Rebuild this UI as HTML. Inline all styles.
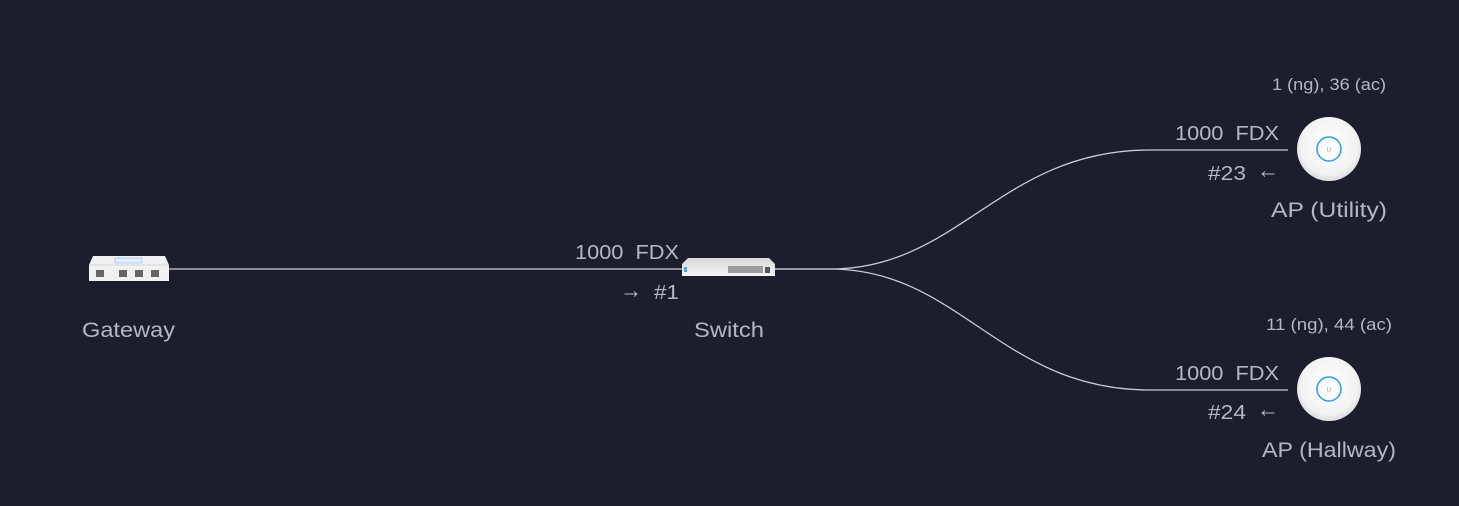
<!DOCTYPE html>
<html><head><style>
html,body{margin:0;padding:0;background:#1c1e2e;width:1459px;height:506px;overflow:hidden}
svg{display:block}
text{font-family:"Liberation Sans",sans-serif;fill:#b4b7c2}
</style></head><body>
<svg width="1459" height="506" viewBox="0 0 1459 506">
<defs>
<radialGradient id="ap" cx="50%" cy="45%" r="55%"><stop offset="0" stop-color="#ffffff"/><stop offset="0.8" stop-color="#f2f2f2"/><stop offset="1" stop-color="#dcdcdc"/></radialGradient>
<linearGradient id="sw" x1="0" y1="0" x2="0" y2="1"><stop offset="0" stop-color="#d8d8d8"/><stop offset="1" stop-color="#f4f4f4"/></linearGradient>
</defs>
<g stroke="#c8cad2" stroke-width="1.3" fill="none">
<path d="M168 269 L682 269"/>
<path d="M775 269 L830 269 C960 269 1000 150 1150 150 L1288 150"/>
<path d="M775 269 L830 269 C960 269 1000 390 1150 390 L1288 390"/>
</g>
<g>
<path d="M93 256 L165 256 L169 265 L169 281 L89 281 L89 265 Z" fill="#f1f1f3"/>
<path d="M89 265 L169 265" stroke="#d5d5d8"/>
<rect x="115" y="258" width="27" height="5" fill="#e3eefb" stroke="#8fc0ee" stroke-width="0.7"/>
<g fill="#666"><rect x="96" y="270" width="8" height="7"/><rect x="119" y="270" width="8" height="7"/><rect x="135" y="270" width="8" height="7"/><rect x="151" y="270" width="8" height="7"/></g>
</g>
<g>
<path d="M688 258 L769 258 L775 264 L775 276 L682 276 L682 264 Z" fill="url(#sw)"/>
<rect x="684" y="267" width="3" height="5" fill="#49a7e8"/>
<rect x="728" y="266" width="35" height="7" fill="#9a9a9a"/>
<rect x="765" y="267" width="5" height="6" fill="#555"/>
</g>
<g>
<circle cx="1329" cy="149" r="32" fill="url(#ap)"/>
<circle cx="1329" cy="149" r="12" fill="none" stroke="#2d9ee0" stroke-width="1.5"/>
<text x="1329" y="152" font-size="7" text-anchor="middle" style="fill:#aaa">U</text>
<circle cx="1329" cy="389" r="32" fill="url(#ap)"/>
<circle cx="1329" cy="389" r="12" fill="none" stroke="#2d9ee0" stroke-width="1.5"/>
<text x="1329" y="392" font-size="7" text-anchor="middle" style="fill:#aaa">U</text>
</g>
<g font-size="21" lengthAdjust="spacingAndGlyphs">
<text x="82" y="337" textLength="93" lengthAdjust="spacingAndGlyphs">Gateway</text>
<text x="694" y="337" textLength="70" lengthAdjust="spacingAndGlyphs">Switch</text>
<text x="1271" y="217" textLength="116" lengthAdjust="spacingAndGlyphs">AP (Utility)</text>
<text x="1262" y="457" textLength="134" lengthAdjust="spacingAndGlyphs">AP (Hallway)</text>
</g>
<g font-size="20">
<text x="575" y="259" textLength="104" lengthAdjust="spacingAndGlyphs" xml:space="preserve">1000  FDX</text>
<text x="620" y="298" textLength="22" lengthAdjust="spacingAndGlyphs" font-size="24">→</text>
<text x="654" y="299" textLength="25" lengthAdjust="spacingAndGlyphs">#1</text>
<text x="1175" y="140" textLength="104" lengthAdjust="spacingAndGlyphs" xml:space="preserve">1000  FDX</text>
<text x="1208" y="180" textLength="38" lengthAdjust="spacingAndGlyphs">#23</text>
<text x="1257" y="178" textLength="22" lengthAdjust="spacingAndGlyphs" font-size="24">←</text>
<text x="1175" y="380" textLength="104" lengthAdjust="spacingAndGlyphs" xml:space="preserve">1000  FDX</text>
<text x="1208" y="419" textLength="38" lengthAdjust="spacingAndGlyphs">#24</text>
<text x="1257" y="417" textLength="22" lengthAdjust="spacingAndGlyphs" font-size="24">←</text>
</g>
<g font-size="17">
<text x="1272" y="90" textLength="114" lengthAdjust="spacingAndGlyphs">1 (ng), 36 (ac)</text>
<text x="1266" y="330" textLength="126" lengthAdjust="spacingAndGlyphs">11 (ng), 44 (ac)</text>
</g>
</svg>
</body></html>
